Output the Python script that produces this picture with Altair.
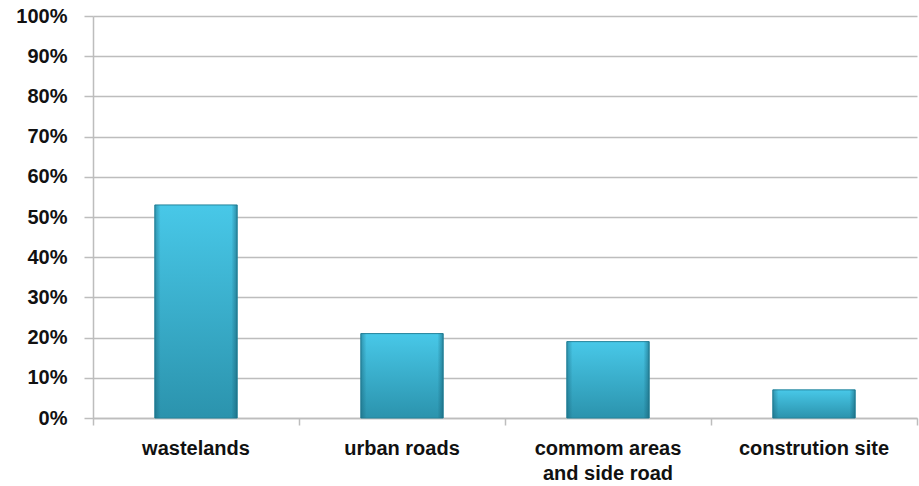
import altair as alt
import pandas as pd

categories = ["wastelands", "urban roads", "commom areas\nand side road", "constrution site"]
values = [0.53, 0.21, 0.19, 0.07]
y_ticks = [0, 0.1, 0.2, 0.3, 0.4, 0.5, 0.6, 0.7, 0.8, 0.9, 1.0]

df = pd.DataFrame({"cat": categories, "val": values})

FONT = "Liberation Sans"
GRID = "#bdbdbd"

x_enc = alt.X(
    "cat:N",
    sort=categories,
    title=None,
    scale=alt.Scale(paddingInner=0, paddingOuter=0),
    axis=alt.Axis(
        labelAngle=0,
        labelExpr="split(datum.label, '\\n')",
        labelFont=FONT,
        labelFontSize=20,
        labelFontWeight="bold",
        labelColor="#111111",
        labelPadding=13,
        labelLineHeight=25,
        labelBaseline="top",
        tickSize=7,
        tickColor=GRID,
        tickWidth=1.5,
        domainColor=GRID,
        domainWidth=1.5,
        bandPosition=1,
        tickExtra=True,
        grid=False,
    ),
)
y_enc = alt.Y(
    "val:Q",
    title=None,
    scale=alt.Scale(domain=[0, 1], nice=False),
    axis=alt.Axis(
        values=y_ticks,
        format=".0%",
        labelFont=FONT,
        labelFontSize=20,
        labelFontWeight="bold",
        labelColor="#111111",
        labelPadding=17,
        tickSize=9,
        tickColor=GRID,
        tickWidth=1.5,
        domainColor=GRID,
        domainWidth=1.5,
        gridColor=GRID,
        gridWidth=1.5,
    ),
)

base = alt.Chart(df).encode(x=x_enc, y=y_enc)

main = base.mark_bar(
    width={"band": 0.4},
    color={
        "gradient": "linear",
        "x1": 0, "y1": 0, "x2": 0, "y2": 1,
        "stops": [
            {"offset": 0, "color": "#48c8e8"},
            {"offset": 1, "color": "#2b93ad"},
        ],
    },
    stroke="#24849c",
    strokeWidth=1,
)

sides = base.mark_bar(
    width={"band": 0.4},
    color={
        "gradient": "linear",
        "x1": 0, "y1": 0, "x2": 1, "y2": 0,
        "stops": [
            {"offset": 0, "color": "rgba(20,90,110,0.45)"},
            {"offset": 0.07, "color": "rgba(20,90,110,0.0)"},
            {"offset": 0.93, "color": "rgba(20,90,110,0.0)"},
            {"offset": 1, "color": "rgba(20,90,110,0.55)"},
        ],
    },
)

chart = (
    alt.layer(main, sides)
    .properties(
        width=824,
        height=402,
        autosize=alt.AutoSizeParams(type="none"),
        padding={"left": 93, "top": 16, "right": 2, "bottom": 68},
        background="#ffffff",
    )
    .configure_view(stroke=None)
)

chart.save("out.html", embed_options={"renderer": "svg", "actions": False})
